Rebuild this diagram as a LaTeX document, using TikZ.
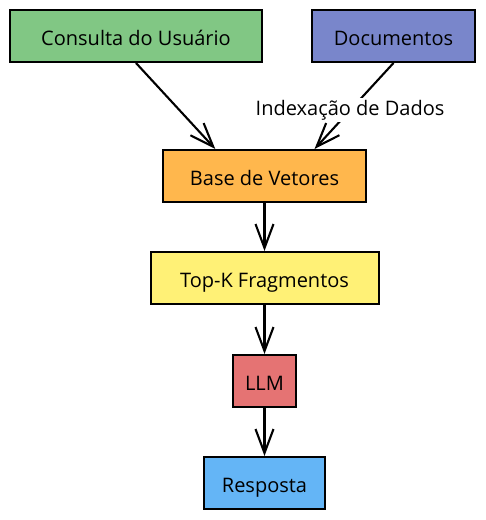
\documentclass[tikz,border=0pt]{standalone}
\usepackage{fontspec}
\setmainfont{Open Sans}
\usetikzlibrary{positioning,arrows.meta,calc}

\definecolor{consultacolor}{HTML}{81C784}
\definecolor{docscolor}{HTML}{7986CB}
\definecolor{basecolor}{HTML}{FFB74D}
\definecolor{topkcolor}{HTML}{FFF176}
\definecolor{llmcolor}{HTML}{E57373}
\definecolor{respcolor}{HTML}{64B5F6}

\tikzset{
  box/.style={draw=black, line width=1pt, minimum height=26pt, inner sep=0pt,
    text height=9.7pt, text depth=0pt, font=\fontsize{10}{12}\selectfont},
  flow/.style={-{Straight Barb[length=12pt,width=9pt]}, line width=1.05pt},
}

\begin{document}
\begin{tikzpicture}[x=0.5pt,y=-0.5pt]
 \useasboundingbox (0,0) rectangle (486,520);
 % sources
 \node[box, fill=consultacolor, minimum width=126pt] (consulta) at (136,36) {Consulta do Usuário};
 \node[box, fill=docscolor, minimum width=81.5pt] (docs) at (393.5,36) {Documentos};
 % pipeline
 \node[box, fill=basecolor, minimum width=101.5pt] (base) at (264.5,176) {Base de Vetores};
 \node[box, fill=topkcolor, minimum width=114pt, below=24pt of base] (topk) {Top-K Fragmentos};
 \node[box, fill=llmcolor, minimum width=31.5pt, below=24.5pt of topk] (llm) {LLM};
 \node[box, fill=respcolor, minimum width=60.5pt, below=24pt of llm] (resp) {Resposta};
 %
 \coordinate (base in1) at ($(base.north west)!0.26!(base.north east)$);
 \coordinate (base in2) at ($(base.north west)!0.744!(base.north east)$);
 \draw[flow] (consulta.south) -- (base in1);
 \draw[flow] (docs.south) -- node[pos=0.55, fill=white, inner sep=1pt,
   font=\fontsize{10}{12}\selectfont] {Indexação de Dados} (base in2);
 \draw[flow] (base) -- (topk);
 \draw[flow] (topk) -- (llm);
 \draw[flow] (llm) -- (resp);
\end{tikzpicture}
\end{document}
